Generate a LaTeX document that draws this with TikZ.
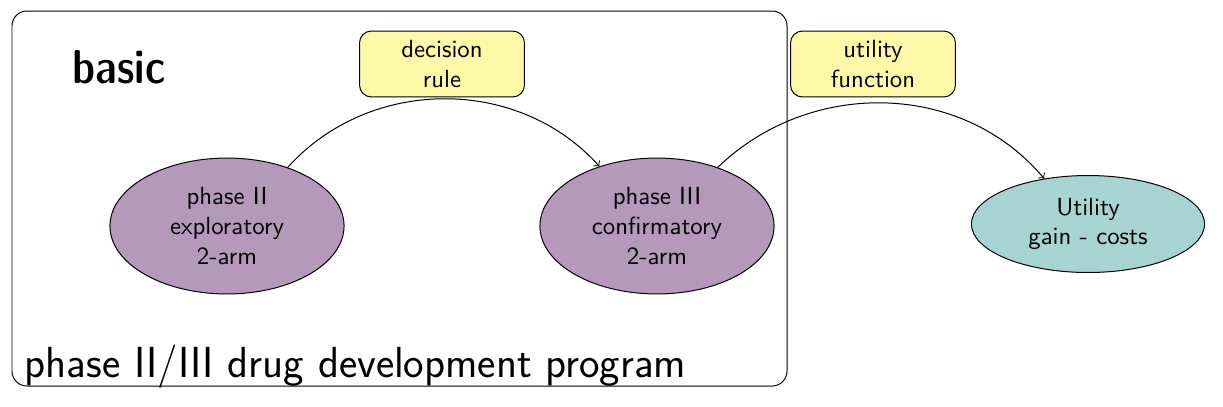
\documentclass[tikz,border=0pt]{standalone}
\renewcommand\familydefault{\sfdefault}
\usetikzlibrary{shapes.geometric}
\definecolor{phasecol}{HTML}{B499BB}
\definecolor{utilcol}{HTML}{A7D3D3}
\definecolor{rulecol}{HTML}{FFF8A8}
\tikzset{
  phasenode/.style={ellipse, draw, fill=phasecol, minimum width=94.4pt, minimum height=54.8pt, align=center, inner sep=0pt},
  utilnode/.style={ellipse, draw, fill=utilcol, minimum width=94pt, minimum height=39.1pt, align=center, inner sep=0pt},
  rulebox/.style={rectangle, rounded corners=4.8pt, draw, fill=rulecol, minimum width=66.5pt, minimum height=26.6pt, align=center, inner sep=0pt},
  conn/.style={->},
}
\begin{document}
\begin{tikzpicture}[x=0.4032pt, y=-0.4032pt]
\useasboundingbox (0,0) rectangle (1223,406);
\draw[rounded corners=6pt] (12,11) rectangle (787,386);
\node[font=\fontsize{19.2}{23}\fontseries{sbc}\selectfont] (basic) at (119,67) {basic};
\node[font=\fontsize{17.55}{21}\selectfont, anchor=base west] (prog) at (16,377) {phase II/III drug development program};
\node[rulebox] (dr) at (442,64) {decision\\rule};
\node[rulebox] (uf) at (873,64) {utility\\function};
\node[phasenode] (p2) at (227,226) {phase II\\exploratory\\2-arm};
\node[phasenode] (p3) at (657,226) {phase III\\confirmatory\\2-arm};
\node[utilnode] (ut) at (1088,224) {Utility\\gain - costs};
\draw[conn] (p2.44.5) to[out=48,in=132] (p3.134);
\draw[conn] (p3.44.5) to[out=44,in=130] (ut.134);
\end{tikzpicture}
\end{document}
